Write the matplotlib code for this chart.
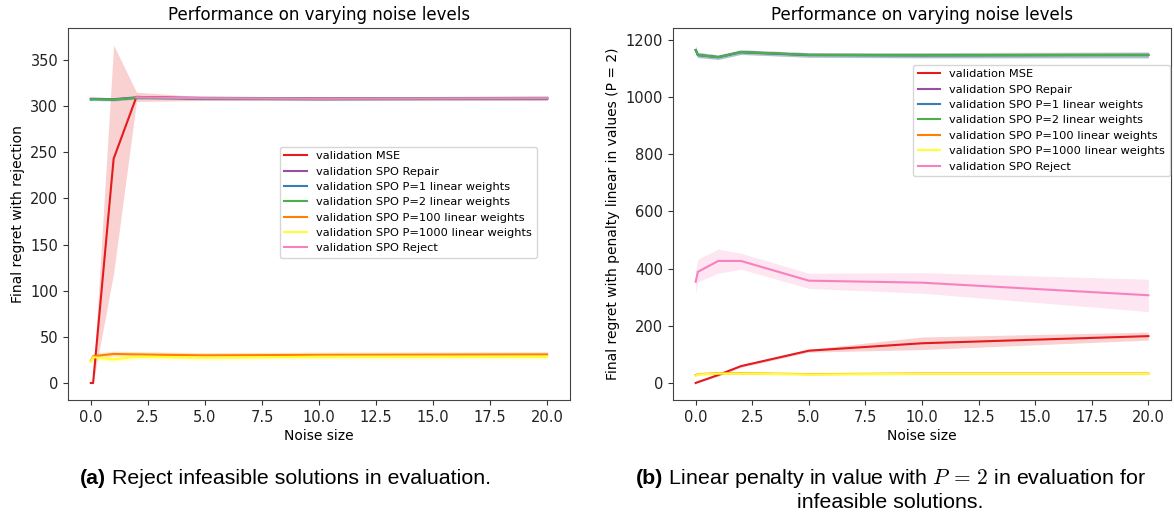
import numpy as np
import matplotlib
matplotlib.use("Agg")
import matplotlib.pyplot as plt

# ---------------- data ----------------
noise = [0, 0.1, 1, 2, 5, 10, 20]
labels = ["validation MSE", "validation SPO Repair", "validation SPO P=1 linear weights",
          "validation SPO P=2 linear weights", "validation SPO P=100 linear weights",
          "validation SPO P=1000 linear weights", "validation SPO Reject"]
colors = ["#e41a1c", "#984ea3", "#377eb8", "#4daf4a", "#ff7f00", "#ffff33", "#f781bf"]

nan = np.nan
# Panel (a): regret with rejection  (mean, lower, upper)
a_mse = [0, 0, 243, 310, 308, 308, 308]
a_mse_lo = [0, 0, 119, 305, 306, 306, 306]
a_mse_hi = [0, 2, 366, 315, 310, 310, 310]
a_repair = [308, 308, 307.5, 309.5, 309, 308.5, 309]
a_p1 = [307, 307.5, 307, 309, 308, 307.5, 308]
a_p2 = [307.5, 307.5, 307, 309, 308.5, 308, 308.5]
a_p100 = [24, 29, 31.5, 31, 30, 30.5, 31]
a_p1000 = [23, 28, 25.5, 28.5, 27.5, 28.5, 28.5]
a_reject = [nan, nan, nan, 309.5, 308.5, 308, 308.5]
a_spread = [1.5, 1.5, 1.5, 1.5, 1.5, 1.5, 1.5]
a_small_spread = [3, 3, 3, 3, 3, 3, 3]

# Panel (b): regret with linear penalty P=2
b_mse = [0, 3, 28, 59, 113, 139, 164]
b_mse_lo = [0, 1, 24, 55, 108, 117, 150]
b_mse_hi = [0, 5, 32, 63, 118, 161, 178]
b_repair = [1165, 1148, 1140, 1158, 1148, 1147, 1148]
b_p1 = [1164, 1147, 1140, 1157, 1147, 1146, 1147]
b_p2 = [1165, 1148, 1140, 1158, 1148, 1147, 1148]
b_p100 = [27, 31, 34, 34, 31, 33, 33]
b_p1000 = [25, 30, 33, 33, 30, 32, 32]
b_reject = [354, 389, 427, 427, 358, 351, 307]
b_reject_lo = [314, 354, 384, 398, 331, 314, 250]
b_reject_hi = [394, 433, 468, 454, 384, 386, 363]
b_spread = [14, 9, 8, 8, 8, 9, 10]
b_small_spread = [3, 3, 3, 3, 3, 3, 3]

W, H = 1174, 515
fig = plt.figure(figsize=(W / 100, H / 100), dpi=100)

def px_axes(l, t, r, b):
    return fig.add_axes([l / W, 1 - b / H, (r - l) / W, (b - t) / H])

ax1 = px_axes(68, 28, 570, 400)
ax2 = px_axes(673, 28, 1171, 400)

def band(ax, x, lo, hi, c):
    ax.fill_between(x, lo, hi, color=c, alpha=0.2, linewidth=0)

def sym(vals, spread):
    v = np.array(vals, dtype=float)
    s = np.array(spread, dtype=float)
    return v - s, v + s

x = np.array(noise)
series_a = [(a_mse, a_mse_lo, a_mse_hi),
            (a_repair,) + sym(a_repair, a_spread),
            (a_p1,) + sym(a_p1, a_spread),
            (a_p2,) + sym(a_p2, a_spread),
            (a_p100,) + sym(a_p100, a_small_spread),
            (a_p1000,) + sym(a_p1000, a_small_spread),
            (a_reject,) + sym(a_reject, a_spread)]
series_b = [(b_mse, b_mse_lo, b_mse_hi),
            (b_repair,) + sym(b_repair, b_spread),
            (b_p1,) + sym(b_p1, b_spread),
            (b_p2,) + sym(b_p2, b_spread),
            (b_p100,) + sym(b_p100, b_small_spread),
            (b_p1000,) + sym(b_p1000, b_small_spread),
            (b_reject, b_reject_lo, b_reject_hi)]

for ax, series in ((ax1, series_a), (ax2, series_b)):
    for (m, lo, hi), lab, c in zip(series, labels, colors):
        ax.plot(x, m, color=c, lw=1.5, label=lab)
        band(ax, x, lo, hi, c)
    ax.set_xlim(-1, 21)
    ax.set_xticks([0, 2.5, 5, 7.5, 10, 12.5, 15, 17.5, 20])
    ax.set_xlabel("Noise size", fontsize=10, labelpad=3)
    ax.set_title("Performance on varying noise levels", fontsize=12, pad=6)
    ax.tick_params(labelsize=10.5, colors="#333333", labelcolor="#222222")
    for s in ax.spines.values():
        s.set_color("#444444")

ax1.set_ylim(-18.4, 384.6)
ax1.set_yticks([0, 50, 100, 150, 200, 250, 300, 350])
ax1.set_ylabel("Final regret with rejection", fontsize=10)
ax2.set_ylim(-59.5, 1242)
ax2.set_yticks([0, 200, 400, 600, 800, 1000, 1200])
ax2.set_ylabel("Final regret with penalty linear in values (P = 2)", fontsize=10)

leg_kw = dict(fontsize=8.2, borderaxespad=0, framealpha=0.8, handlelength=2.0,
              labelspacing=0.47, edgecolor="#cccccc")
ax1.legend(loc="lower left", bbox_to_anchor=(0.422, 0.382), **leg_kw)
ax2.legend(loc="lower left", bbox_to_anchor=(0.482, 0.602), **leg_kw)

# captions
cap_font = ["Liberation Sans", "DejaVu Sans"]
cap_size = 15.4
fig.canvas.draw()
r = fig.canvas.get_renderer()

def caption(xpx, ypx, bold, rest):
    t1 = fig.text(xpx / W, 1 - ypx / H, bold, fontsize=cap_size, fontweight="bold",
                  family=cap_font, ha="left", va="center")
    bb = t1.get_window_extent(renderer=r)
    fig.text(bb.x1 / W, 1 - ypx / H, rest, fontsize=cap_size, family=cap_font,
             ha="left", va="center", math_fontfamily="cm")

caption(80, 479, "(a)", " Reject infeasible solutions in evaluation.")
caption(636, 479, "(b)", " Linear penalty in value with $P\\,=\\,2$ in evaluation for")
fig.text(890 / W, 1 - 503 / H, "infeasible solutions.", fontsize=cap_size, family=cap_font,
         ha="center", va="center")

fig.savefig("out.png", dpi=100)
